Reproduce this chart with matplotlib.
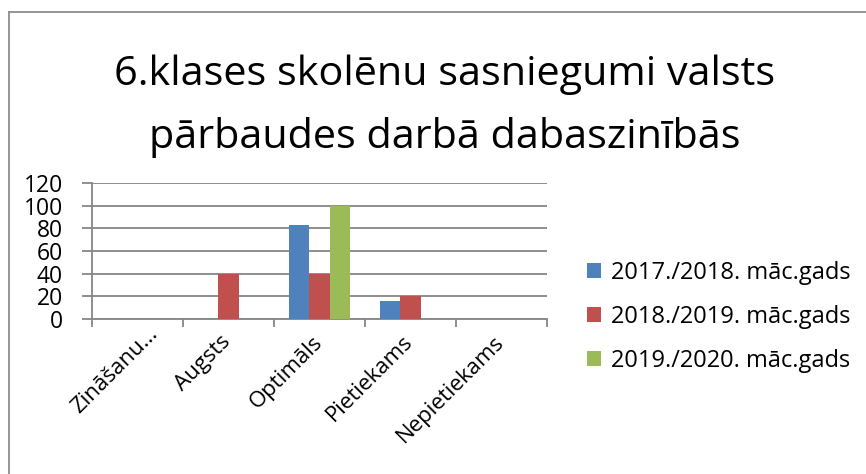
import numpy as np
import matplotlib.pyplot as plt
import matplotlib.transforms as mtransforms
from matplotlib.lines import Line2D

plt.rcParams['font.family'] = ['Open Sans', 'DejaVu Sans']

### data
categories = ['Zināšanu...', 'Augsts', 'Optimāls', 'Pietiekams', 'Nepietiekams']
series_names = ['2017./2018. māc.gads', '2018./2019. māc.gads', '2019./2020. māc.gads']
vals_1718 = [0, 0, 83, 16, 0]
vals_1819 = [0, 40, 40, 20, 0]
vals_1920 = [0, 0, 100, 0, 0]
colors = ['#4f81bd', '#c0504d', '#9bbb59']
yticks = [0, 20, 40, 60, 80, 100, 120]

W, H = 866, 474
fig = plt.figure(figsize=(W / 100, H / 100), dpi=100)
ax = fig.add_axes([92 / W, 1 - 319 / H, (547 - 92) / W, (319 - 183) / H])

x = np.arange(len(categories))
bw = 0.22
for i, (vals, name) in enumerate(zip([vals_1718, vals_1819, vals_1920], series_names)):
    ax.bar(x + (i - 1) * bw, vals, width=bw, color=colors[i], label=name, zorder=3)

ax.set_xlim(-0.5, len(categories) - 0.5)
ax.set_ylim(0, 120)
ax.set_yticks(yticks)
ax.yaxis.grid(True, color='#868686', lw=1.3, zorder=0)
ax.tick_params(axis='y', length=7, color='#868686', width=1.3, labelsize=16.5, pad=14)

# category boundaries get the tick marks
ax.set_xticks(np.arange(len(categories) + 1) - 0.5)
ax.set_xticklabels([])
ax.tick_params(axis='x', length=6, color='#868686', width=1.3, direction='out')
ax.set_xticks(x, minor=True)
ax.set_xticklabels(categories, minor=True, rotation=45, ha='right', va='top',
                   rotation_mode='anchor', fontsize=16)
ax.tick_params(axis='x', which='minor', length=0, pad=9)
for k, lbl in enumerate(ax.get_xticklabels(minor=True)):
    # truncated first label sits a bit further up-right, like in Excel
    dx, dy = (10, 8) if k == 0 else (-8, 0)
    shift = mtransforms.ScaledTranslation(dx / 100, dy / 100, fig.dpi_scale_trans)
    lbl.set_transform(lbl.get_transform() + shift)

for s in ['top', 'right']:
    ax.spines[s].set_visible(False)
for s in ['left', 'bottom']:
    ax.spines[s].set_color('#868686')
    ax.spines[s].set_linewidth(1.3)

fig.text(445 / W, 1 - 75 / H, '6.klases skolēnu sasniegumi valsts',
         ha='center', va='center', fontsize=29.8)
fig.text(445 / W, 1 - 137 / H, 'pārbaudes darbā dabaszinībās',
         ha='center', va='center', fontsize=29.8)

fig.legend(loc='center left', bbox_to_anchor=(566 / W, 1 - 317 / H), frameon=False,
           fontsize=17, handlelength=0.6, handleheight=0.6, handletextpad=0.4,
           labelspacing=0.85)

# chart frame (left and top edges visible)
fig.add_artist(Line2D([9 / W, 9 / W], [0, 1 - 12 / H], color='#8c8c8c', lw=1.3))
fig.add_artist(Line2D([9 / W, 1], [1 - 12 / H, 1 - 12 / H], color='#8c8c8c', lw=1.3))

fig.savefig('out.png', dpi=100)
